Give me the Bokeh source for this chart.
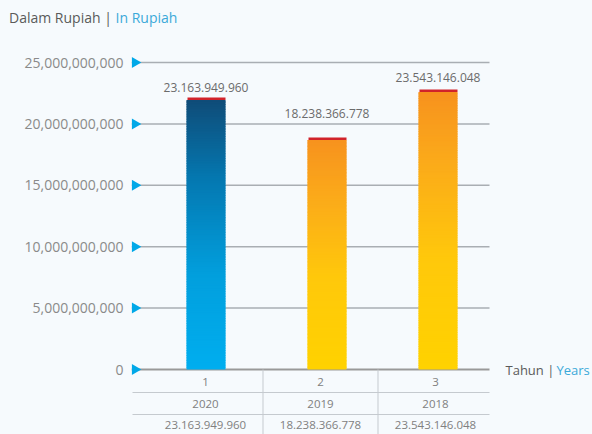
import numpy as np
from bokeh.plotting import figure
from bokeh.layouts import column
from bokeh.models import FixedTicker, NumeralTickFormatter, Range1d, Div
from bokeh.core.properties import value
from bokeh.embed import file_html
from bokeh.resources import INLINE

# ---------------- data ----------------
categories = [1, 2, 3]
cat_labels = ["1", "2", "3"]
years = ["2020", "2019", "2018"]
amounts = ["23.163.949.960", "18.238.366.778", "23.543.146.048"]
bar_heights = [22.15e9, 18.90e9, 22.80e9]      # drawn bar tops
y_ticks = [0, 5e9, 10e9, 15e9, 20e9, 25e9]

# ---------------- layout / style ----------------
PAGE_W, PAGE_H = 592, 434
TITLE_H = 36               # height of the title strip
W, H = PAGE_W, PAGE_H - TITLE_H
LEFT = 131                 # frame left (px)
X1_PX = 205                # px of category 1
PX_X = 115.0               # px per category unit
Y0_PX = 369 - TITLE_H      # figure px (from top) of value 0
Y25_PX = 62 - TITLE_H      # figure px of 25e9
PX_Y = (Y0_PX - Y25_PX) / 25e9

def dx(px):
    return px / PX_X

def dy(px):
    return px / PX_Y

x_start = 1 - dx(X1_PX - LEFT)
x_end = 1 + dx(W - X1_PX)
y_start = -dy(H - Y0_PX)
y_end = dy(Y0_PX)
x_plot_end = 3 + dx(54)    # right end of grid / table

BG = "#F6FAFD"
FONT = "Open Sans"
BLUE_TXT = "#3BA9D9"
DARK_TXT = "#5A5A5A"

title = Div(text=('<div style="box-sizing:border-box;width:%dpx;height:%dpx;'
                  'background-color:%s;padding:8px 0 0 9px;font-family:\'Open Sans\';'
                  'font-size:14px;color:%s;white-space:nowrap;">Dalam Rupiah | '
                  '<span style="color:%s;">In Rupiah</span></div>')
            % (PAGE_W, TITLE_H, BG, DARK_TXT, BLUE_TXT),
            width=PAGE_W, height=TITLE_H, margin=(0, 0, 0, 0),
            styles={"background-color": BG})

p = figure(width=W, height=H, output_backend="svg", toolbar_location=None,
           x_range=Range1d(x_start, x_end), y_range=Range1d(y_start, y_end),
           x_axis_location=None, min_border_left=LEFT, min_border_right=0,
           min_border_top=0, min_border_bottom=0, margin=(0, 0, 0, 0))
p.background_fill_color = BG
p.border_fill_color = BG
p.outline_line_color = None
p.xgrid.visible = False
p.ygrid.visible = False

ax = p.yaxis[0]
ax.ticker = FixedTicker(ticks=y_ticks)
ax.formatter = NumeralTickFormatter(format="0,0")
ax.axis_line_color = None
ax.major_tick_line_color = None
ax.minor_tick_line_color = None
ax.major_tick_out = 0
ax.major_tick_in = 0
ax.minor_tick_out = 0
ax.major_label_standoff = 8
ax.major_label_text_font = FONT
ax.major_label_text_font_size = "14px"
ax.major_label_text_color = "#8A8A8A"

# grid lines
grid_ticks = y_ticks[1:]
p.segment(x0=[x_start] * len(grid_ticks), x1=[x_plot_end] * len(grid_ticks),
          y0=grid_ticks, y1=grid_ticks, line_color="#A9AEB3", line_width=1.5)
p.segment(x0=[x_start], x1=[x_plot_end], y0=[0], y1=[0],
          line_color="#999999", line_width=2)

# table lines
row_lines_px = [23, 45]
p.segment(x0=[x_start + dx(1)] * 2, x1=[x_plot_end] * 2,
          y0=[-dy(v) for v in row_lines_px], y1=[-dy(v) for v in row_lines_px],
          line_color="#C5CACF", line_width=1)
mids = [(categories[i] + categories[i + 1]) / 2 for i in range(len(categories) - 1)]
p.segment(x0=mids, x1=mids, y0=[0] * len(mids), y1=[y_start] * len(mids),
          line_color="#C5CACF", line_width=1)

# triangles on ticks
p.scatter(x=[x_start + dx(3.5)] * len(y_ticks), y=y_ticks, marker="triangle",
          size=11, angle=-np.pi / 2, fill_color="#00A8E8", line_color=None)

# gradient bars
def hex2rgb(h):
    h = h.lstrip("#")
    return np.array([int(h[i:i + 2], 16) for i in (0, 2, 4)], dtype=float)

def grad(stops, t):
    ts = [s[0] for s in stops]
    cols = [hex2rgb(s[1]) for s in stops]
    for i in range(len(ts) - 1):
        if ts[i] <= t <= ts[i + 1]:
            f = (t - ts[i]) / (ts[i + 1] - ts[i])
            c = cols[i] * (1 - f) + cols[i + 1] * f
            return "#%02x%02x%02x" % tuple(int(round(v)) for v in c)
    return "#%02x%02x%02x" % tuple(int(v) for v in cols[-1])

blue_stops = [(0.0, "#00AEEF"), (0.35, "#029FDD"), (0.7, "#0479B2"), (1.0, "#0F4C78")]
orange_stops = [(0.0, "#FFD200"), (0.4, "#FFC80B"), (0.75, "#FBAA1A"), (1.0, "#F7921E")]
bar_stops = [blue_stops, orange_stops, orange_stops]
bar_shift_px = [0.5, 6.5, 2.5]
BAR_W = dx(39)
CAP = dy(2.5)
N = 160

ql, qr, qb, qt, qc = [], [], [], [], []
for c, h, st, sh in zip(categories, bar_heights, bar_stops, bar_shift_px):
    xc = c + dx(sh)
    top = h - CAP
    edges = np.linspace(0, top, N + 1)
    for i in range(N):
        ql.append(xc - BAR_W / 2)
        qr.append(xc + BAR_W / 2)
        qb.append(edges[i])
        qt.append(edges[i + 1] + dy(1.0) if i < N - 1 else edges[i + 1])
        qc.append(grad(st, (i + 0.5) / N))
p.quad(left=ql, right=qr, bottom=qb, top=qt, fill_color=qc, line_color=None)

cx = [c + dx(s) for c, s in zip(categories, bar_shift_px)]
p.quad(left=[x - BAR_W / 2 + dx(1) for x in cx], right=[x + BAR_W / 2 for x in cx],
       bottom=[h - CAP for h in bar_heights], top=bar_heights,
       fill_color="#D1232A", line_color=None)

# value labels above bars
label_gap_px = [10, 24, 12]
p.text(x=cx, y=[h + dy(g) for h, g in zip(bar_heights, label_gap_px)], text=amounts,
       text_align="center", text_baseline="middle", text_font=value(FONT),
       text_font_size="12px", text_color="#6B6B6B")

# table text
rows_px = [12, 34, 55]
for vals, rpx in zip([cat_labels, years, amounts], rows_px):
    p.text(x=categories, y=[-dy(rpx)] * len(categories), text=vals,
           text_align="center", text_baseline="middle", text_font=value(FONT),
           text_font_size="11.5px", text_color="#808080")

# axis caption right
p.text(x=[1 + dx(300)], y=[0], text=["Tahun | "], text_align="left",
       text_baseline="middle", text_font=value(FONT), text_font_size="13px",
       text_color=DARK_TXT)
p.text(x=[1 + dx(351)], y=[0], text=["Years"], text_align="left",
       text_baseline="middle", text_font=value(FONT), text_font_size="13px",
       text_color=BLUE_TXT)

layout = column(title, p, spacing=0, margin=(0, 0, 0, 0),
                styles={"background-color": BG})
html = file_html(layout, INLINE)
html = html.replace("<body>", '<body style="background-color:%s;">' % BG, 1)
open("out.html", "w").write(html)
